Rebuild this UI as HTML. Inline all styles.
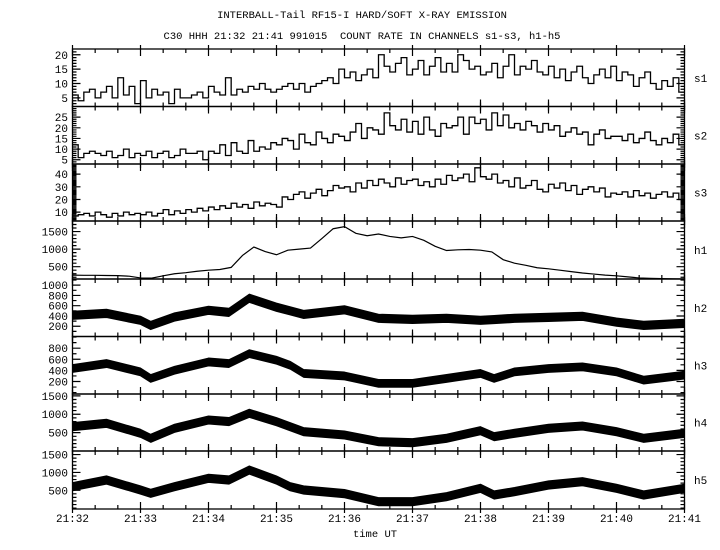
<!DOCTYPE html>
<html><head><meta charset="utf-8">
<style>
html,body{margin:0;padding:0;background:#fff;}
svg{display:block;font-family:"Liberation Mono","DejaVu Sans Mono",monospace;}
</style></head>
<body>
<svg id="chart" width="720" height="550" viewBox="0 0 720 550" xmlns="http://www.w3.org/2000/svg">
<rect width="720" height="550" fill="#fff"/>
<text x="362" y="18" font-size="10.5" text-anchor="middle">INTERBALL-Tail RF15-I HARD/SOFT X-RAY EMISSION</text>
<text x="362" y="39" font-size="10.5" text-anchor="middle" xml:space="preserve">C30 HHH 21:32 21:41 991015  COUNT RATE IN CHANNELS s1-s3, h1-h5</text>
<text x="375" y="537" font-size="10.5" text-anchor="middle">time UT</text>
<g id="plots"></g>
</svg>
<script>
// ---- data ----
const timeTickLabels = ["21:32","21:33","21:34","21:35","21:36","21:37","21:38","21:39","21:40","21:41"];
const channelNames = ["s1","s2","s3","h1","h2","h3","h4","h5"];
// soft channels: 5-second bins (12 per minute)
const s1Values = [6,4,7,8,5,7,9,5,12,6,9,3, 11,5,8,6,7,3,8,5,5,6,7,5, 9,7,6,12,6,8,7,9,8,10,8,7, 8,9,10,8,10,7,9,10,11,12,10,15, 12,14,11,13,15,12,20,16,14,17,19,13, 15,18,13,16,19,14,17,14,20,18,15,16, 13,14,17,12,16,20,13,16,15,18,14,13, 16,12,15,11,14,16,12,10,13,15,12,16, 11,14,13,9,12,14,10,8,11,9,12,7];
const s2Values = [12,6,8,9,8,7,9,6,7,10,6,8, 7,9,6,8,9,6,7,10,8,8,9,5, 9,8,12,7,13,9,8,14,9,11,10,13, 12,15,14,10,17,13,12,18,15,13,17,16, 14,18,22,15,20,19,17,27,21,19,24,18, 23,17,25,19,16,22,20,21,25,17,25,22, 24,19,27,21,26,20,22,19,23,21,18,22, 19,21,16,18,20,17,18,12,17,19,15,16, 16,14,17,13,15,18,14,12,15,13,17,12];
const s3Values = [7,8,9,7,10,8,6,9,7,10,8,9, 8,10,7,9,12,8,11,9,12,10,13,11, 14,12,15,13,17,14,16,13,18,15,17,16, 14,22,20,24,26,21,25,28,23,27,31,29, 30,26,33,29,35,31,36,33,30,37,32,35, 36,31,34,30,36,32,39,35,37,40,34,45, 38,36,40,33,35,30,37,29,31,35,28,26, 32,29,33,27,31,24,28,30,26,29,22,25, 24,26,22,27,23,25,21,24,26,22,25,20];
// h1: 10-second samples
const h1Values = [260,255,255,250,245,230, 180,175,240,300,330,370, 400,420,480,820,1060,930, 840,970,1000,1030,1300,1580, 1640,1450,1380,1430,1360,1320, 1360,1250,1080,960,980,990, 970,920,700,600,540,470, 440,400,360,320,290,260, 240,210,180,170,160,155, 150];
// h2-h5: band centres at sample times (minutes after 21:32)
const bandTimes = [0,0.5,1,1.15,1.5,2,2.3,2.6,3,3.2,3.4,4,4.5,5,5.5,6,6.2,6.5,7,7.5,8,8.4,9];
const h2Centre = [413,450,315,215,380,510,470,745,570,500,430,520,354,334,354,315,330,354,373,393,280,216,255];
const h3Centre = [434,523,373,255,403,552,523,702,582,493,345,300,166,166,255,345,255,373,434,463,373,225,314];
const h4Centre = [661,753,481,345,617,843,800,1025,797,661,525,435,253,226,345,552,390,481,617,680,525,345,481];
const h5Centre = [600,787,507,415,600,835,787,1067,787,600,507,405,180,180,320,555,368,461,647,740,555,368,555];
const bandSpread = [80,70,110,115];
const yTickLabels = [[5,10,15,20],[5,10,15,20,25],[10,20,30,40],[500,1000,1500],[200,400,600,800,1000],[200,400,600,800],[500,1000,1500],[500,1000,1500]];

// ---- layout ----
const X0 = 72.5, X1 = 684.5;
const panelEdges = [49,106.5,164,221,279,336.5,394,451,509];
const yRanges = [[2,22],[3,30],[3,48],[150,1800],[0,1120],[-25,1010],[0,1550],[-25,1600]];
const minorStep = [1,1,1,100,100,100,100,100];
const NS = "http://www.w3.org/2000/svg";
const g = document.getElementById('plots');
function xs(t){ return X0 + (X1-X0)*t/9; }
function ysFor(p){ const [a,b]=yRanges[p]; const top=panelEdges[p], bot=panelEdges[p+1];
  return v => bot - (v-a)/(b-a)*(bot-top); }
function mk(tag, attrs){ const e=document.createElementNS(NS,tag); for(const k in attrs) e.setAttribute(k,attrs[k]); return e; }

for(let p=0;p<8;p++){
  const top=panelEdges[p], bot=panelEdges[p+1], ys=ysFor(p);
  const pg = mk('g',{});
  
  
  g.appendChild(pg);
  let d='';
  const [a,b]=yRanges[p];
  for(let v=Math.ceil(a/minorStep[p])*minorStep[p]; v<=b; v+=minorStep[p]){
    const y=ys(v); if(y<top+0.5||y>bot-0.5) continue;
    const major = yTickLabels[p].includes(v);
    const L = major?8:4;
    d+=`M${X0},${y}h${L}M${X1},${y}h${-L}`;
  }
  for(let k=0;k<=27;k++){
    const x=xs(k/3), major=k%3===0, L=major?7:4;
    d+=`M${x},${top}v${L}M${x},${bot}v${-L}`;
    if(major){ d+=`M${x},${top}v${-L+3}M${x},${bot}v${L-3}`; }
  }
  const tk = mk('path',{d:d,stroke:'#000','stroke-width':1.2,fill:'none'});
  
  
  pg.appendChild(tk);
  for(const v of yTickLabels[p]){
    const t = mk('text',{x:68,y:ys(v)+4,'font-size':11,'text-anchor':'end'});
    t.textContent = v;
    
    
    pg.appendChild(t);
  }
  const nm = mk('text',{x:694,y:(top+bot)/2+4,'font-size':11});
  nm.textContent = channelNames[p];
  
  
  pg.appendChild(nm);
  let sd='';
  if(p<3){
    const vals=[s1Values,s2Values,s3Values][p], n=vals.length;
    for(let i=0;i<n;i++){
      const x0=xs(9*i/n), x1=xs(9*(i+1)/n), y=ys(vals[i]);
      sd += (i===0?`M${x0},${y}`:`V${y}`) + `H${x1}`;
    }
    const s=mk('path',{d:sd,stroke:'#000','stroke-width':1.3,fill:'none'});
    
    
    pg.appendChild(s);
  } else if(p===3){
    const n=h1Values.length-1;
    h1Values.forEach((v,i)=>{ sd += (i===0?'M':'L')+xs(9*i/n)+','+ys(v); });
    const s=mk('path',{d:sd,stroke:'#000','stroke-width':1.2,fill:'none'});
    
    
    pg.appendChild(s);
  } else {
    const c=[h2Centre,h3Centre,h4Centre,h5Centre][p-4], sp=bandSpread[p-4];
    let up='', lo='';
    bandTimes.forEach((t,i)=>{ up += (i===0?'M':'L')+xs(t)+','+ys(c[i]+sp); });
    for(let i=bandTimes.length-1;i>=0;i--){ lo += 'L'+xs(bandTimes[i])+','+ys(c[i]-sp); }
    const s=mk('path',{d:up+lo+'Z',stroke:'#000','stroke-width':1,fill:'#000','stroke-linejoin':'round'});
    
    
    pg.appendChild(s);
  }
  const fr = mk('rect',{x:X0,y:top,width:X1-X0,height:bot-top,fill:'none',stroke:'#000','stroke-width':1.3});
  
  
  pg.appendChild(fr);
}
timeTickLabels.forEach((lab,k)=>{
  const t=mk('text',{x:xs(k),y:522,'font-size':11,'text-anchor':'middle'});
  t.textContent=lab;
  
  
  g.appendChild(t);
});
</script>
</body></html>
